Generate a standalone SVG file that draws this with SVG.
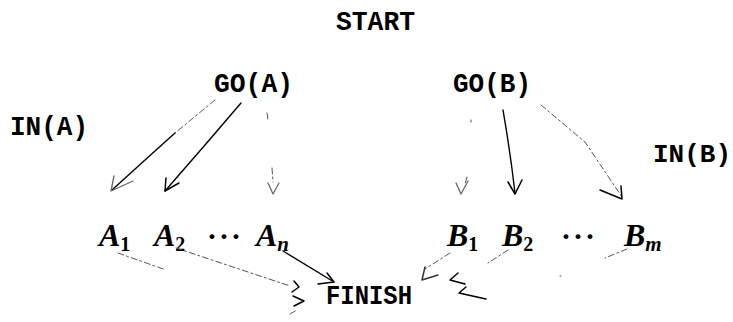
<svg xmlns="http://www.w3.org/2000/svg" width="733" height="322" viewBox="0 0 733 322">
<defs>
<style>
.tt{font-family:"Liberation Mono","DejaVu Sans Mono",monospace;font-size:28px;font-weight:bold;fill:#000}
.m{font-family:"Liberation Serif","DejaVu Serif",serif;font-style:italic;font-weight:bold;font-size:32px;fill:#000}
.s{font-style:normal;font-size:20px}
.si{font-size:21px}
.dots{font-family:"Liberation Serif","DejaVu Serif",serif;font-size:30px;fill:#000;font-weight:bold;letter-spacing:2px}
.e{fill:none;stroke:#000;stroke-width:1.4;stroke-linecap:round}
.f{fill:none;stroke:#555;stroke-width:1;stroke-dasharray:6 3 2 3;stroke-linecap:round}
.h{fill:none;stroke:#000;stroke-width:1.5;stroke-linecap:round;stroke-linejoin:round}
.hg{fill:none;stroke:#666;stroke-width:1.3;stroke-linecap:round;stroke-linejoin:round}
</style>
</defs>
<g id="start"><text class="tt" x="336" y="30" textLength="79" lengthAdjust="spacingAndGlyphs">START</text></g>
<g id="goA"><text class="tt" x="214" y="92" textLength="79" lengthAdjust="spacingAndGlyphs">GO(A)</text></g>
<g id="goB"><text class="tt" x="453" y="92" textLength="78" lengthAdjust="spacingAndGlyphs">GO(B)</text></g>
<g id="inA"><text class="tt" x="10" y="135" textLength="78" lengthAdjust="spacingAndGlyphs">IN(A)</text></g>
<g id="inB"><text class="tt" x="653" y="162" style="font-size:26px">IN(B)</text></g>
<g id="A1"><text class="m" x="99" y="246">A<tspan class="s" dy="5">1</tspan></text></g>
<g id="A2"><text class="m" x="154" y="246">A<tspan class="s" dy="5">2</tspan></text></g>
<g id="dotsA"><text class="dots" x="225" y="246" text-anchor="middle">···</text></g>
<g id="An"><text class="m" x="256" y="246">A<tspan class="si" dy="5">n</tspan></text></g>
<g id="B1"><text class="m" x="447" y="246">B<tspan class="s" dy="5">1</tspan></text></g>
<g id="B2"><text class="m" x="502" y="246">B<tspan class="s" dy="5">2</tspan></text></g>
<g id="dotsB"><text class="dots" x="579" y="246" text-anchor="middle">···</text></g>
<g id="Bm"><text class="m" x="624" y="246">B<tspan class="si" dy="5">m</tspan></text></g>
<g id="finish"><text class="tt" x="326" y="304" textLength="86" lengthAdjust="spacingAndGlyphs">FINISH</text></g>
<g id="connectors">
<path class="f" d="M215 100 L175 133"/>
<path class="e" d="M175 133 L145 160 L112 190"/>
<path class="hg" d="M114 176 L111 191 L133 181"/>
<path class="e" d="M241 103 L205 145 L165 191"/>
<path class="h" d="M166 178 L165 191 L179 183"/>
<path class="f" d="M267 113 L268 120 M272 168 L273 182"/>
<path class="hg" d="M268 183 L273 194 L279 183"/>
<path class="f" d="M471 120 L471 122 M467 177 L465 184"/>
<path class="hg" d="M456 183 L461 194 L468 181"/>
<path class="e" d="M503 110 Q510 150 515 193"/>
<path class="h" d="M508 182 L515 194 L522 180"/>
<path class="f" d="M541 105 L585 142 L622 197"/>
<path class="h" d="M600 190 L622 199 L621 186"/>
<path class="f" d="M118 253 L166 270"/>
<path class="f" d="M176 248 L230 266 L290 286"/>
<path class="e" d="M283 251 L334 282"/>
<path class="h" d="M327 273 L334 282 L318 284"/>
<path class="h" d="M294 281 L299 287 L292 292"/>
<path class="h" d="M293 296 L304 301 L294 306"/>
<path class="f" d="M290 314 L297 310"/>
<path class="f" d="M450 253 L425 269"/>
<path class="h" d="M425 267 L422 280 L438 275" style="stroke:#333"/>
<path class="f" d="M508 250 L488 263"/>
<path class="h" d="M458 273 L450 280 L465 284"/>
<path class="h" d="M466 287 L459 293 L486 299"/>
<path class="f" d="M627 249 L605 258"/>
<path class="f" d="M560 276 L561 276"/>
</g>
</svg>
